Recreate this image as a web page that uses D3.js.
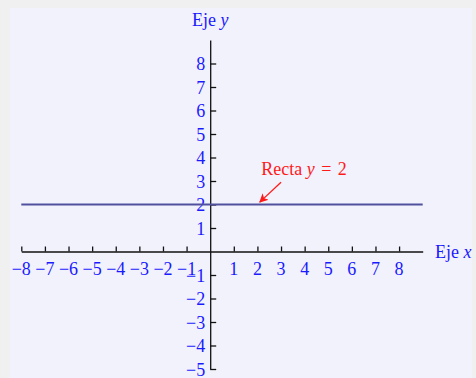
<!DOCTYPE html>
<html>
<head>
<meta charset="utf-8">
<script src="https://cdn.jsdelivr.net/npm/d3@7"></script>
<style>
  body { margin: 0; background: #f0f0f0; }
  svg text { font-family: "Liberation Serif", "DejaVu Serif", serif; }
</style>
</head>
<body>
<div id="chart"></div>
<script>
// chart data
var xTicks = [-8, -7, -6, -5, -4, -3, -2, -1, 1, 2, 3, 4, 5, 6, 7, 8];
var yTicks = [-5, -4, -3, -2, -1, 1, 2, 3, 4, 5, 6, 7, 8];
var xDomain = [-8, 9];
var yDomain = [-5, 9];
var linePoints = [[-8, 2], [9, 2]];
var arrowFrom = [3, 2.95];
var arrowTo = [2.1, 2.1];
var labelPos = [2.16, 3.25];

var width = 476, height = 378;

var svg = d3.select("#chart").append("svg")
    .attr("width", width)
    .attr("height", height);

svg.append("rect")
    .attr("x", 10).attr("y", 8)
    .attr("width", 462).attr("height", 370)
    .attr("fill", "#f2f2fd");

var x = d3.scaleLinear().domain(xDomain).range([21.3, 422.7]);
var y = d3.scaleLinear().domain(yDomain).range([369, 40]);

var blue = "#1a1aff";
var red = "#ff1a1a";

function fmt(d) { return d < 0 ? "\u2212" + (-d) : d; }

// x axis
var xAxis = svg.append("g")
    .attr("transform", "translate(0," + y(0) + ")")
    .call(d3.axisTop(x).tickValues(xTicks).tickSizeInner(5).tickSizeOuter(0).tickFormat(""));
xAxis.select(".domain").attr("stroke", "#111").attr("stroke-width", 1.3);
xAxis.selectAll(".tick line").attr("stroke", "#111").attr("stroke-width", 1.3);

svg.append("g").selectAll("text")
    .data(xTicks).enter().append("text")
    .attr("x", function (d) { return x(d); })
    .attr("y", y(0) + 23.5)
    .attr("text-anchor", "middle")
    .attr("fill", blue)
    .attr("font-size", 18)
    .text(fmt);

// y axis
var yAxis = svg.append("g")
    .attr("transform", "translate(" + x(0) + ",0)")
    .call(d3.axisRight(y).tickValues(yTicks).tickSizeInner(6).tickSizeOuter(0).tickFormat(""));
yAxis.select(".domain").attr("stroke", "#111").attr("stroke-width", 1.3);
yAxis.selectAll(".tick line").attr("stroke", "#111").attr("stroke-width", 1.3);

svg.append("g").selectAll("text")
    .data(yTicks).enter().append("text")
    .attr("x", x(0) - 5)
    .attr("y", function (d) { return y(d) + 6.5; })
    .attr("text-anchor", "end")
    .attr("fill", blue)
    .attr("font-size", 18)
    .text(fmt);

// axis titles
var ty = svg.append("text")
    .attr("x", x(0))
    .attr("y", 25.5)
    .attr("text-anchor", "middle")
    .attr("fill", blue)
    .attr("font-size", 18);
ty.append("tspan").text("Eje ");
ty.append("tspan").attr("font-style", "italic").text("y");

var tx = svg.append("text")
    .attr("x", 435)
    .attr("y", y(0) + 6.5)
    .attr("fill", blue)
    .attr("font-size", 18);
tx.append("tspan").text("Eje ");
tx.append("tspan").attr("font-style", "italic").text("x");

// the line y = 2
svg.append("path")
    .datum(linePoints)
    .attr("d", d3.line().x(function (d) { return x(d[0]); }).y(function (d) { return y(d[1]); }))
    .attr("stroke", "#50509e")
    .attr("stroke-width", 2)
    .attr("fill", "none");

// annotation
svg.append("defs").append("marker")
    .attr("id", "arrow")
    .attr("viewBox", "0 0 10 10")
    .attr("refX", 9).attr("refY", 5)
    .attr("markerWidth", 9).attr("markerHeight", 9)
    .attr("markerUnits", "userSpaceOnUse")
    .attr("orient", "auto")
    .append("path")
    .attr("d", "M0,0 L10,5 L0,10 L2.5,5 Z")
    .attr("fill", red);

svg.append("line")
    .attr("x1", x(arrowFrom[0])).attr("y1", y(arrowFrom[1]))
    .attr("x2", x(arrowTo[0])).attr("y2", y(arrowTo[1]))
    .attr("stroke", red)
    .attr("stroke-width", 1.3)
    .attr("marker-end", "url(#arrow)");

var lbl = svg.append("text")
    .attr("x", x(labelPos[0]))
    .attr("y", y(labelPos[1]))
    .attr("fill", red)
    .attr("font-size", 18);
lbl.append("tspan").text("Recta ");
lbl.append("tspan").attr("font-style", "italic").text("y");
lbl.append("tspan").attr("dx", 2).text(" = ");
lbl.append("tspan").attr("dx", 2).text("2");
</script>
</body>
</html>
